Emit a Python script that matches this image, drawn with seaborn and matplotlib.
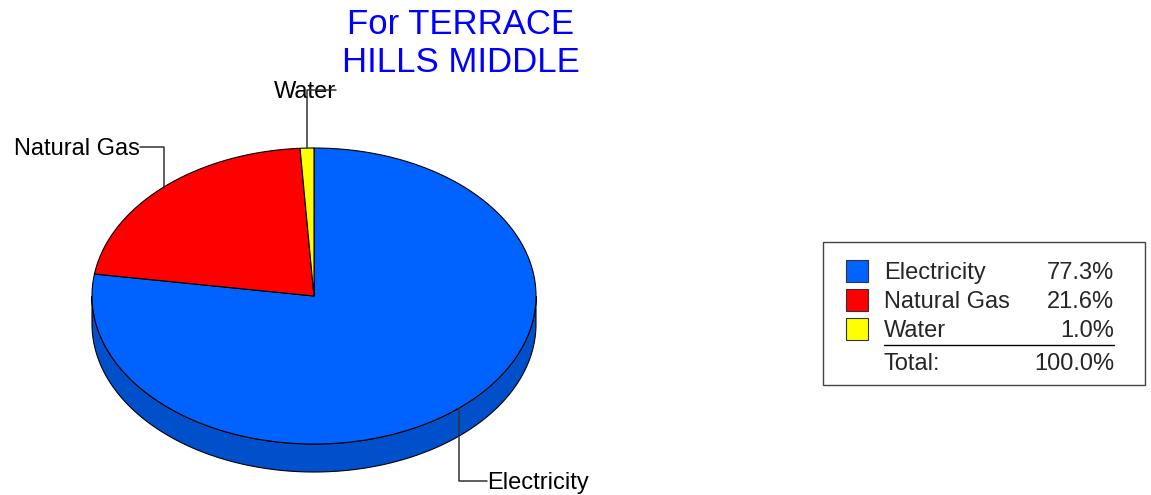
import numpy as np
import matplotlib
matplotlib.use("Agg")
import matplotlib.pyplot as plt
from matplotlib.patches import Polygon, Rectangle
import seaborn as sns

categories = ["Electricity", "Natural Gas", "Water"]
shares = [77.3, 21.6, 1.0]
total_share = 100.0
top_colors = ["#0062FF", "#FF0000", "#FFFF00"]
side_colors = ["#0050CC", "#C00000", "#C8C800"]
title_lines = ["For TERRACE", "HILLS MIDDLE"]

sns.set_style("white")
plt.rcParams["font.family"] = ["Liberation Sans", "DejaVu Sans"]

W, H = 1151, 495
fig = plt.figure(figsize=(W / 100, H / 100), dpi=100)
ax = fig.add_axes([0, 0, 1, 1])
ax.set_xlim(0, W)
ax.set_ylim(H, 0)
ax.axis("off")

# pie geometry in pixel space
cx, cy, rx, ry, depth = 314, 296, 222, 148, 28
tdy = 2  # small nudge so text sits like the original


def arc(a0, a1, dy=0, n=200):
    t = np.radians(np.linspace(a0, a1, n))
    return np.column_stack([cx + rx * np.cos(t), cy - ry * np.sin(t) + dy])


def pt(a, dy=0):
    t = np.radians(a)
    return cx + rx * np.cos(t), cy - ry * np.sin(t) + dy


# slices run clockwise from 12 o'clock
spans = []
start = 90.0
for s in shares:
    end = start - s / sum(shares) * 360
    spans.append((start, end))
    start = end

# side walls (front half only)
for (a0, a1), col in zip(spans, side_colors):
    for k in (-1, 0, 1):
        lo = max(a1, -180 + 360 * k)
        hi = min(a0, 0 + 360 * k)
        if hi > lo:
            top = arc(lo, hi)
            bot = arc(hi, lo, dy=depth)
            ax.add_patch(Polygon(np.vstack([top, bot]), closed=True,
                                 facecolor=col, edgecolor="black", lw=0.8))

# top faces
for (a0, a1), col in zip(spans, top_colors):
    poly = np.vstack([[cx, cy], arc(a0, a1)])
    ax.add_patch(Polygon(poly, closed=True, facecolor=col,
                         edgecolor="black", lw=0.8, joinstyle="round"))

# leader lines and labels
label_pos = [(487, 481, "left"), (140, 147, "right"), (305, 90, "center")]
for (a0, a1), name, (tx, ty, ha) in zip(spans, categories, label_pos):
    mid = (a0 + a1) / 2
    x0, y0 = pt(mid)
    if ha == "center":
        xs, ys = [x0, x0, x0 + 29], [y0, ty, ty]
    else:
        xs, ys = [x0, x0, tx], [y0, ty, ty]
    ax.plot(xs, ys, color="#333333", lw=1.1, zorder=3)
    ax.text(tx, ty + tdy, name, ha=ha, va="center", fontsize=17,
            color="black", zorder=2)

# title
ax.text(461, 22 + tdy, title_lines[0], ha="center", va="center",
        fontsize=25, color="#0000FF")
ax.text(461, 60 + tdy, title_lines[1], ha="center", va="center",
        fontsize=25, color="#0000FF")

# legend box
ax.add_patch(Rectangle((823, 242), 322, 143, facecolor="white",
                       edgecolor="#444444", lw=1))
row_y = [271, 300, 329]
for name, val, col, y in zip(categories, shares, top_colors, row_y):
    ax.add_patch(Rectangle((846, y - 11), 22, 22, facecolor=col,
                           edgecolor="#333333", lw=0.8))
    ax.text(884, y + tdy, name, ha="left", va="center", fontsize=17)
    ax.text(1114, y + tdy, f"{val:.1f}%", ha="right", va="center",
            fontsize=17)
ax.plot([884, 1114], [345, 345], color="black", lw=1)
ax.text(884, 362 + tdy, "Total:", ha="left", va="center", fontsize=17)
ax.text(1114, 362 + tdy, f"{total_share:.1f}%", ha="right", va="center",
        fontsize=17)

fig.savefig("out.png", dpi=100, facecolor="white")
